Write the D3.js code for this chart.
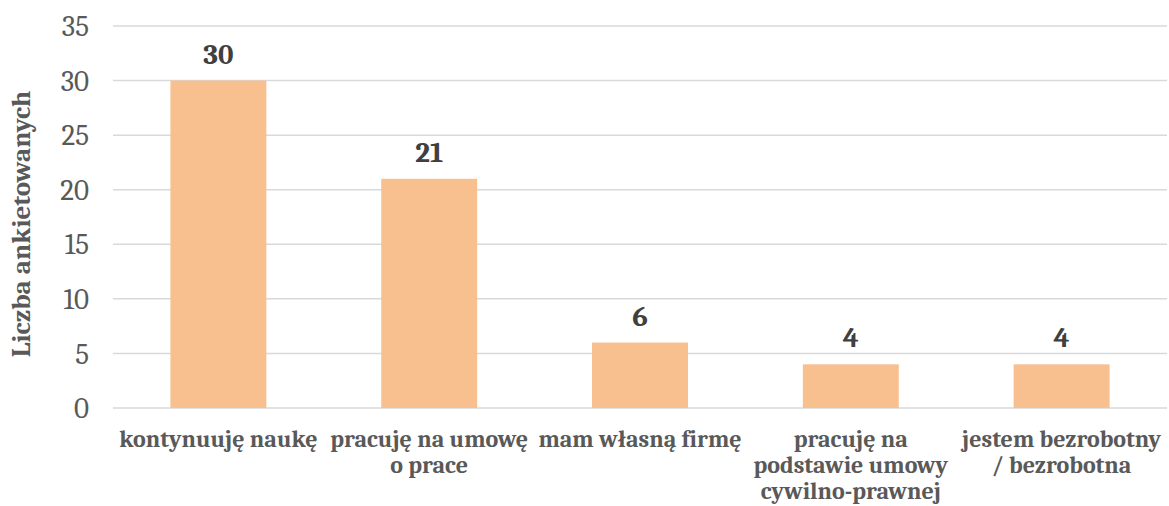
<!DOCTYPE html>
<html><head><meta charset="utf-8">
<script src="https://cdn.jsdelivr.net/npm/d3@7"></script>
<style>body{margin:0;background:#fff}</style>
</head><body>
<svg id="c" width="1169" height="506"></svg>
<script>
const categories = ["kontynuuję naukę", "pracuję na umowę\no prace", "mam własną firmę", "pracuję na\npodstawie umowy\ncywilno-prawnej", "jestem bezrobotny\n/ bezrobotna"];
const values = [30, 21, 6, 4, 4];
const yTicks = [0, 5, 10, 15, 20, 25, 30, 35];
const yTitle = "Liczba ankietowanych";

const FONT = "Cambria, Caladea, 'DejaVu Serif', serif";
const svg = d3.select("#c");
const x = d3.scaleBand().domain(categories).range([113, 1167]).paddingInner(0.545).paddingOuter(0.2725);
const y = d3.scaleLinear().domain([0, 35]).range([408, 26]);

// gridlines
svg.append("g").selectAll("line").data(yTicks).join("line")
  .attr("x1", 113).attr("x2", 1167)
  .attr("y1", d => y(d)).attr("y2", d => y(d))
  .attr("stroke", "#d9d9d9").attr("stroke-width", 1.5);

// y axis labels
const yAxis = d3.axisLeft(y).tickValues(yTicks).tickSize(0).tickPadding(0);
const ga = svg.append("g").attr("transform", "translate(89,0)").call(yAxis);
ga.select(".domain").remove();
ga.selectAll("text").attr("font-family", FONT).attr("font-size", 29).attr("fill", "#595959").attr("dy", "0.33em");

// bars
svg.append("g").selectAll("rect").data(values).join("rect")
  .attr("x", (d, i) => x(categories[i])).attr("width", x.bandwidth())
  .attr("y", d => y(d)).attr("height", d => y(0) - y(d))
  .attr("fill", "#f8bf8f");

// value labels
svg.append("g").selectAll("text").data(values).join("text")
  .attr("x", (d, i) => x(categories[i]) + x.bandwidth() / 2)
  .attr("y", d => y(d) - 17)
  .attr("text-anchor", "middle").attr("font-family", FONT).attr("font-weight", "bold")
  .attr("font-size", 29).attr("fill", "#404040").text(d => d);

// category labels
const cg = svg.append("g");
categories.forEach(c => {
  const t = cg.append("text").attr("text-anchor", "middle").attr("font-family", FONT)
    .attr("font-weight", "bold").attr("font-size", 24).attr("fill", "#595959");
  c.split("\n").forEach((ln, j) => {
    t.append("tspan").attr("x", x(c) + x.bandwidth() / 2).attr("y", 447 + j * 26).text(ln);
  });
});

// y title
svg.append("text").attr("transform", "translate(30,224) rotate(-90)")
  .attr("text-anchor", "middle").attr("font-family", FONT).attr("font-weight", "bold")
  .attr("font-size", 27).attr("fill", "#595959").text(yTitle);
</script>
</body></html>
